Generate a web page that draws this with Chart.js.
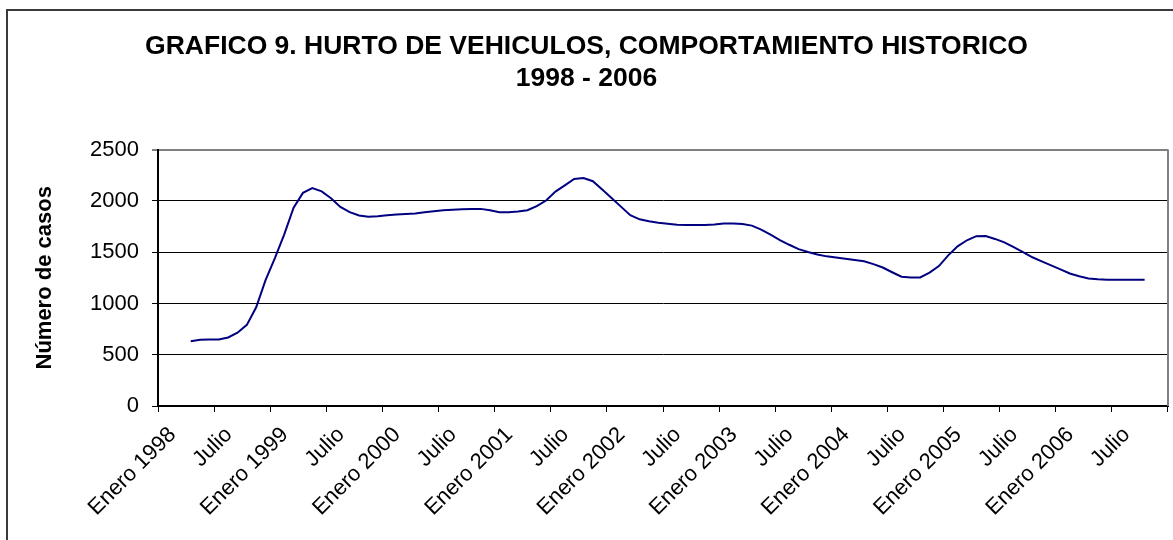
<!DOCTYPE html>
<html lang="es">
<head>
  <meta charset="UTF-8">
  <title>Hurto de vehiculos 1998 - 2006</title>
  <script src="https://cdn.jsdelivr.net/npm/chart.js"></script>
  <style>
    html, body {
      margin: 0;
      padding: 0;
      background: #fff;
    }
    #marco {
      position: absolute;
      left: 6px;
      top: 9px;
      width: 1200px;
      height: 600px;
      border-top: 2px solid #3a3a3a;
      border-left: 2px solid #3a3a3a;
    }
    canvas {
      position: absolute;
      left: 0;
      top: 0;
    }
  </style>
</head>
<body>
  <div id="marco"></div>
  <canvas id="hurtoChart" width="1173" height="540"></canvas>

  <script>
    // Datos mensuales (abril 1998 - octubre 2006)
    const anios = [1998, 1999, 2000, 2001, 2002, 2003, 2004, 2005, 2006];
    const meses = ['Enero', 'Febrero', 'Marzo', 'Abril', 'Mayo', 'Junio',
                   'Julio', 'Agosto', 'Septiembre', 'Octubre', 'Noviembre', 'Diciembre'];
    const primerMes = 'Abril 1998';
    const casos = [
      632, 647, 648, 648, 668, 715, 791, 963, 1227,
      1442, 1674, 1934, 2078, 2125, 2093, 2026, 1941, 1890, 1857, 1845, 1850,
      1861, 1867, 1872, 1877, 1888, 1898, 1908, 1913, 1918, 1922, 1922, 1909,
      1890, 1890, 1897, 1909, 1948, 2003, 2090, 2151, 2213, 2223, 2192, 2110,
      2027, 1944, 1861, 1820, 1801, 1787, 1777, 1767, 1764, 1764, 1764, 1770,
      1780, 1780, 1774, 1759, 1720, 1670, 1618, 1572, 1530, 1501, 1477, 1459,
      1447, 1435, 1424, 1411, 1383, 1350, 1304, 1260, 1252, 1253, 1301, 1364,
      1469, 1557, 1616, 1656, 1657, 1629, 1596, 1549, 1501, 1450, 1410, 1371,
      1332, 1292, 1265, 1244, 1236, 1232, 1232, 1232, 1232, 1232
    ];
    const yTicks = [0, 500, 1000, 1500, 2000, 2500];

    const categorias = [];
    anios.forEach(a => meses.forEach(m => categorias.push(m + ' ' + a)));

    const inicio = categorias.indexOf(primerMes);
    const serie = categorias.map((c, i) => {
      const k = i - inicio;
      return (k >= 0 && k < casos.length) ? casos[k] : null;
    });

    const etiqueta = i => {
      const m = i % 12;
      if (m === 0) return 'Enero ' + anios[Math.floor(i / 12)];
      if (m === 6) return 'Julio';
      return '';
    };

    const fuente = 'Liberation Sans, Arial, sans-serif';

    // borde derecho gris del area de trazado
    const bordeArea = {
      id: 'bordeArea',
      afterDraw(chart) {
        const {ctx, chartArea} = chart;
        ctx.save();
        ctx.strokeStyle = '#808080';
        ctx.lineWidth = 2;
        ctx.beginPath();
        ctx.moveTo(chartArea.right, chartArea.top);
        ctx.lineTo(chartArea.right, chartArea.bottom);
        ctx.stroke();
        ctx.restore();
      }
    };

    new Chart(document.getElementById('hurtoChart'), {
      type: 'line',
      data: {
        labels: categorias,
        datasets: [{
          label: 'Hurto de vehiculos',
          data: serie,
          borderColor: '#000080',
          borderWidth: 2,
          pointRadius: 0,
          tension: 0,
          fill: false
        }]
      },
      options: {
        responsive: false,
        animation: false,
        devicePixelRatio: 1,
        layout: {
          padding: {left: 5, right: 5, top: 0, bottom: 0}
        },
        plugins: {
          legend: {display: false},
          tooltip: {enabled: false},
          title: {
            display: true,
            text: ['GRAFICO 9. HURTO DE VEHICULOS, COMPORTAMIENTO HISTORICO', '1998 - 2006'],
            color: '#000',
            font: {family: fuente, size: 26.5, weight: 'bold', lineHeight: 1.2},
            padding: {top: 31, bottom: 55}
          }
        },
        scales: {
          x: {
            type: 'category',
            offset: true,
            afterFit: s => { s.height = 134; s.paddingRight = 0; },
            border: {display: true, color: '#000', width: 2},
            grid: {
              offset: true,
              drawOnChartArea: false,
              drawTicks: true,
              tickLength: 6,
              color: c => (c.index === undefined || c.index % 6 === 0) ? '#000' : 'rgba(0,0,0,0)'
            },
            ticks: {
              autoSkip: false,
              minRotation: 45,
              maxRotation: 45,
              padding: 10,
              labelOffset: 10,
              color: '#000',
              font: {family: fuente, size: 22},
              callback: (v, i) => etiqueta(i)
            }
          },
          y: {
            min: 0,
            max: 2500,
            afterFit: s => { s.width = 153; },
            afterBuildTicks: s => { s.ticks = yTicks.map(v => ({value: v})); },
            border: {display: true, color: '#000', width: 2},
            grid: {
              drawTicks: true,
              tickLength: 6,
              lineWidth: c => c.tick && c.tick.value === 2500 ? 2 : 1,
              color: c => c.tick && c.tick.value === 2500 ? '#808080' : '#000'
            },
            ticks: {
              padding: 13,
              color: '#000',
              font: {family: fuente, size: 22},
              callback: v => String(v)
            },
            title: {
              display: true,
              text: 'Número de casos',
              color: '#000',
              font: {family: fuente, size: 22, weight: 'bold'},
              padding: {top: 27, bottom: 0}
            }
          }
        }
      },
      plugins: [bordeArea]
    });
  </script>
</body>
</html>
